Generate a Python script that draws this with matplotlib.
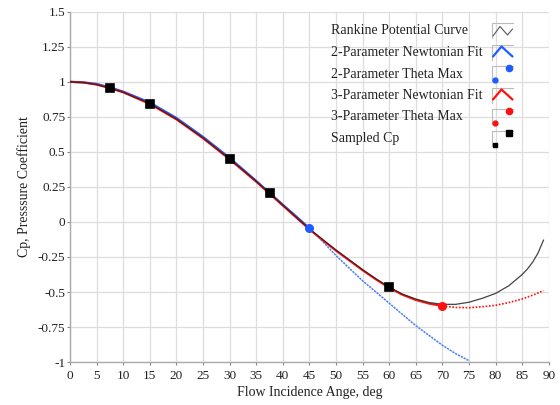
import matplotlib
matplotlib.use('Agg')
import matplotlib.pyplot as plt
from matplotlib.lines import Line2D

# Rankine potential solution
theta_rankine = [0, 2.5, 5, 7.5, 10, 15, 20, 25, 30, 35, 40, 42.5, 45, 47.5, 50, 52.5, 55, 57.5, 60,
                 62.5, 65, 67.5, 70, 72.5, 75, 77.5, 80, 82.5, 85, 86, 87, 88, 89]
cp_rankine = [1.0, 0.995, 0.98, 0.955, 0.925, 0.845, 0.735, 0.60, 0.45, 0.29, 0.12, 0.035, -0.05,
              -0.125, -0.20, -0.27, -0.34, -0.405, -0.465, -0.515, -0.55, -0.575, -0.588, -0.588,
              -0.573, -0.545, -0.51, -0.455, -0.375, -0.335, -0.285, -0.22, -0.13]

# 2-parameter Newtonian fit
theta_fit2 = [0, 2.5, 5, 7.5, 10, 15, 20, 25, 30, 35, 40, 42.5, 45,
              47.5, 50, 52.5, 55, 57.5, 60, 62.5, 65, 67.5, 70, 72.5, 75]
cp_fit2 = [1.0, 0.996, 0.985, 0.96, 0.93, 0.852, 0.742, 0.607, 0.457, 0.293, 0.123, 0.04, -0.045,
           -0.14, -0.24, -0.33, -0.42, -0.50, -0.58, -0.66, -0.74, -0.81, -0.88, -0.94, -0.99]

# 3-parameter Newtonian fit, solid up to its theta max
theta_fit3 = [0, 2.5, 5, 7.5, 10, 15, 20, 25, 30, 35, 40, 42.5, 45, 47.5, 50, 52.5, 55, 57.5, 60,
              62.5, 65, 67.5, 70]
cp_fit3 = [1.0, 0.995, 0.98, 0.955, 0.925, 0.842, 0.732, 0.597, 0.447, 0.287, 0.117, 0.032, -0.053,
           -0.13, -0.205, -0.275, -0.345, -0.41, -0.47, -0.52, -0.557, -0.583, -0.60]
# and its dotted extension past theta max
theta_fit3_ext = [70, 72.5, 75, 77.5, 80, 82.5, 85, 87.5, 89]
cp_fit3_ext = [-0.60, -0.61, -0.612, -0.605, -0.595, -0.575, -0.55, -0.515, -0.49]

theta_max2, cp_max2 = [45], [-0.045]
theta_max3, cp_max3 = [70], [-0.60]

theta_sampled = [7.5, 15, 30, 37.5, 60]
cp_sampled = [0.955, 0.845, 0.45, 0.205, -0.465]

x_ticks = list(range(0, 95, 5))
y_ticks = [-1, -0.75, -0.5, -0.25, 0, 0.25, 0.5, 0.75, 1, 1.25, 1.5]
y_ticklabels = ['-1', '-0.75', '-0.5', '-0.25', '0', '0.25', '0.5', '0.75', '1', '1.25', '1.5']

legend_labels = ['Rankine Potential Curve', '2-Parameter Newtonian Fit', '2-Parameter Theta Max',
                 '3-Parameter Newtonian Fit', '3-Parameter Theta Max', 'Sampled Cp']

plt.rcParams['font.family'] = ['Liberation Serif', 'DejaVu Serif']

W, H = 560, 405
fig = plt.figure(figsize=(W / 100, H / 100), dpi=100)
ax = fig.add_axes([0.125, 0.106, 0.855, 0.865])

blue = '#1f5bff'
red = '#ff1010'

ax.plot(theta_fit2[:13], cp_fit2[:13], color=blue, lw=1.6, zorder=3)
ax.plot(theta_fit2[12:], cp_fit2[12:], color='#4d80f5', lw=1.1, ls=(0, (1.5, 0.6)), zorder=3)
ax.plot(theta_fit3, cp_fit3, color=red, lw=1.5, zorder=4)
ax.plot(theta_fit3_ext, cp_fit3_ext, color=red, lw=1.2, ls=(0, (1, 1)), zorder=4)
ax.plot(theta_rankine, cp_rankine, color='#222222', lw=0.9, alpha=0.85, zorder=5)

ax.plot(theta_max2, cp_max2, 'o', color=blue, ms=5.5, zorder=6)
ax.plot(theta_max3, cp_max3, 'o', color=red, ms=5.5, zorder=6)
ax.plot(theta_sampled, cp_sampled, 's', color='black', ms=6, mew=1.2, mec='black',
        zorder=7)[0].set_markeredgewidth(1.2)
for ln in ax.lines[-1:]:
    ln.set_solid_joinstyle('round')

ax.set_xlim(0, 90)
ax.set_ylim(-1, 1.5)
ax.set_xticks(x_ticks)
ax.set_yticks(y_ticks)
ax.set_yticklabels(y_ticklabels)
ax.grid(True, color='#dddddd', lw=0.9)
ax.set_axisbelow(True)
for side in ['top', 'right']:
    ax.spines[side].set_visible(False)
for side in ['left', 'bottom']:
    ax.spines[side].set_color('#aaaaaa')
    ax.spines[side].set_linewidth(1.0)
ax.tick_params(axis='both', colors='#888888', labelcolor='#222222', length=2.5, width=0.8, labelsize=9.5)
ax.tick_params(axis='x', pad=3)
ax.tick_params(axis='y', pad=1)

ax.set_xlabel('Flow Incidence Ange, deg', fontsize=10, color='#222222', labelpad=3)
ax.set_ylabel('Cp, Presssure Coefficient', fontsize=10, color='#222222', labelpad=5)


# legend drawn by hand: left-aligned labels with small boxed symbols on the right
def fx(px):
    return px / W


def fy(py):
    return 1 - py / H


row_y = [31, 52.5, 74, 95.5, 117, 138.5]
text_x = 331
box_x0, box_x1 = 492, 513

for label, yc in zip(legend_labels, row_y):
    fig.text(fx(text_x), fy(yc), label, fontsize=10, color='#222222', va='center', ha='left')
    fig.add_artist(Line2D([fx(box_x0), fx(box_x0), fx(box_x1)],
                          [fy(yc + 7), fy(yc - 8), fy(yc - 8)],
                          color='#bbbbbb', lw=0.8, transform=fig.transFigure))


def sym_line(xs, ys, color, lw):
    fig.add_artist(Line2D([fx(v) for v in xs], [fy(v) for v in ys], color=color, lw=lw,
                          transform=fig.transFigure, solid_capstyle='round'))


def sym_dots(yc, color, marker):
    fig.add_artist(Line2D([fx(494.5)], [fy(yc + 6)], color=color, marker=marker, ms=3.5,
                          ls='none', transform=fig.transFigure))
    fig.add_artist(Line2D([fx(509)], [fy(yc - 6)], color=color, marker=marker, ms=4.5,
                          ls='none', transform=fig.transFigure))


sym_line([493, 500, 507.5, 512.5], [row_y[0] + 5, row_y[0] - 4.5, row_y[0] + 4, row_y[0] - 2],
         '#555555', 0.8)
sym_line([493, 501.5, 512.5], [row_y[1] + 4, row_y[1] - 6, row_y[1] + 4], blue, 1.6)
sym_dots(row_y[2], blue, 'o')
sym_line([493, 501.5, 512.5], [row_y[3] + 4, row_y[3] - 6, row_y[3] + 4], red, 1.6)
sym_dots(row_y[4], red, 'o')
sym_dots(row_y[5], 'black', 's')

fig.savefig('out.png', dpi=100)
